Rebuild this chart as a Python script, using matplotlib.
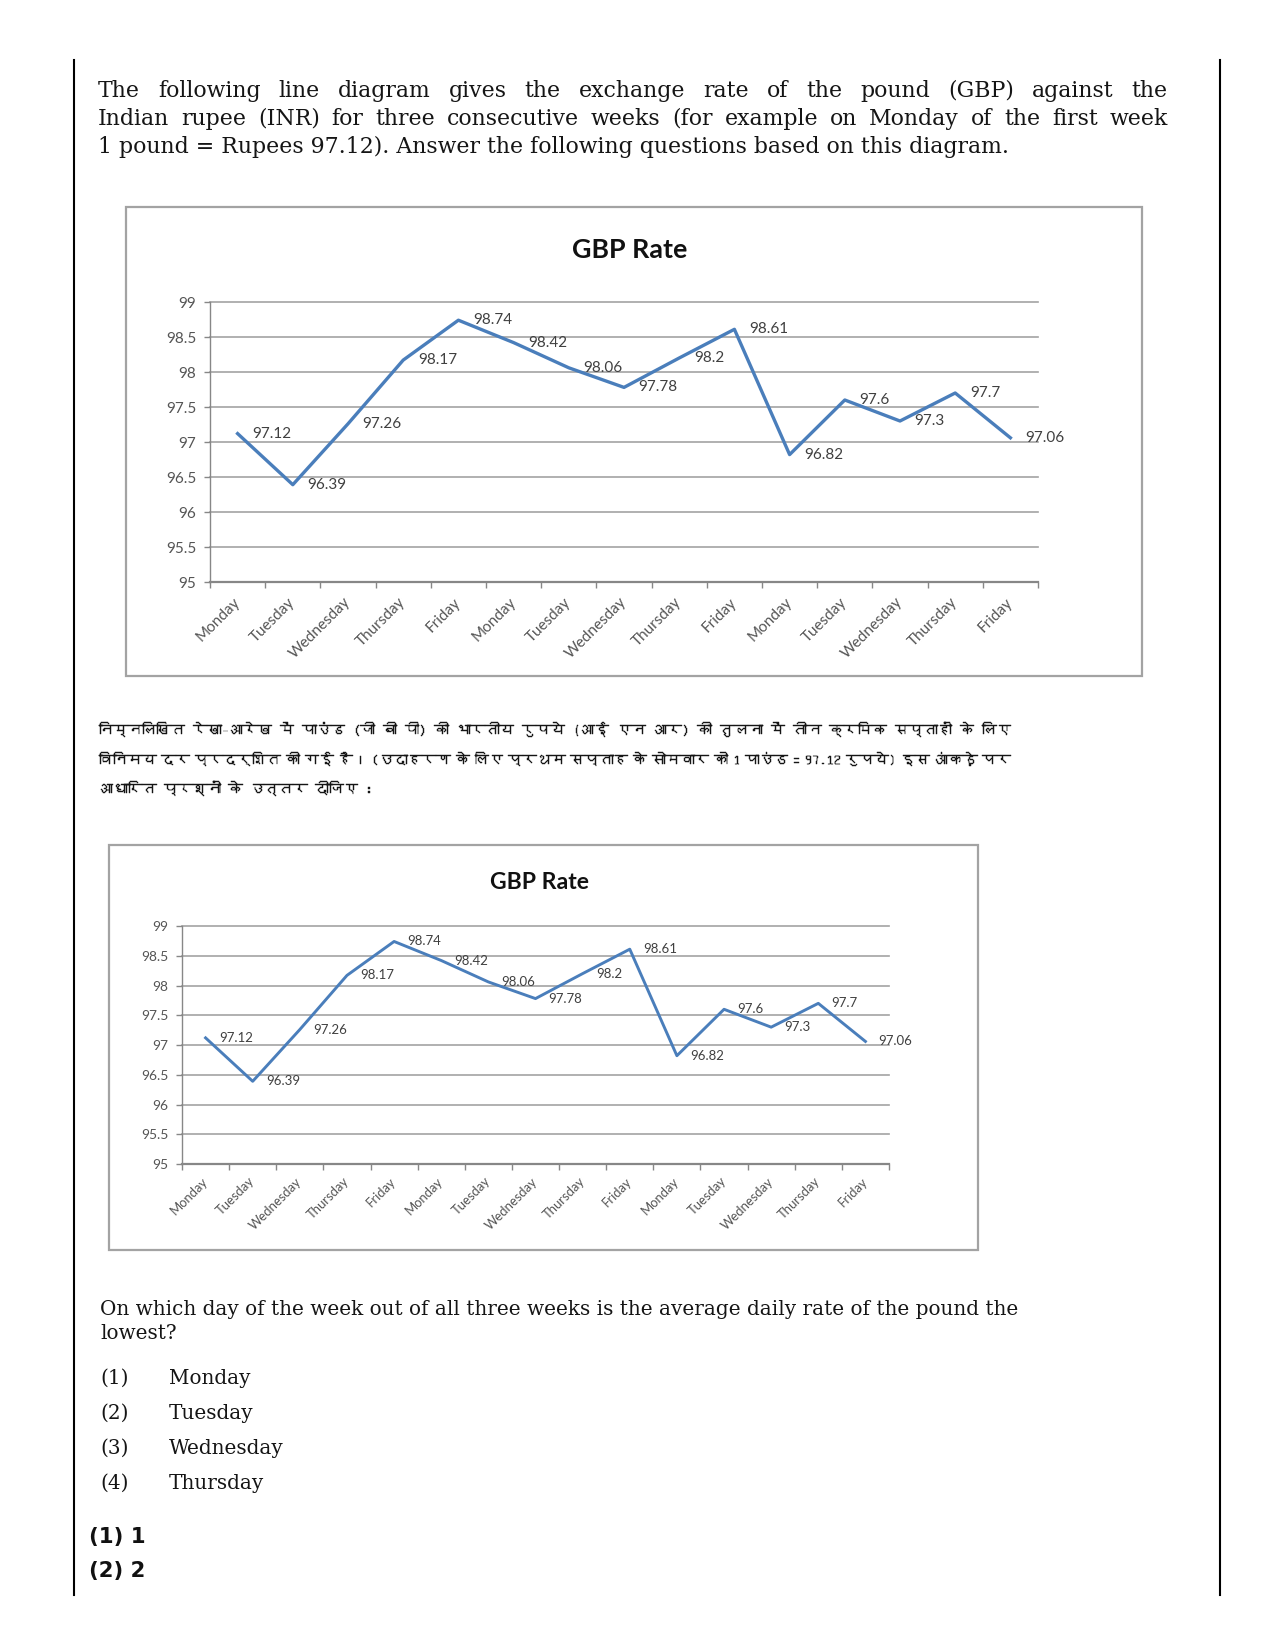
#!/usr/bin/env python
"""
GBP/INR 汇率题目页面复刻：英文/印地文题干 + 两张相同的折线图 + 选项。
"""

import matplotlib
matplotlib.use("Agg")
import matplotlib.pyplot as plt
import matplotlib.patheffects as pe
from matplotlib import font_manager
from matplotlib.ft2font import FT2Font
from matplotlib.patches import Rectangle
from matplotlib.lines import Line2D

W, H = 1275, 1651

# 图表数据（三周，每周周一到周五）
DAYS = ["Monday", "Tuesday", "Wednesday", "Thursday", "Friday"] * 3
RATES = [97.12, 96.39, 97.26, 98.17, 98.74,
         98.42, 98.06, 97.78, 98.2, 98.61,
         96.82, 97.6, 97.3, 97.7, 97.06]
Y_TICKS = [95, 95.5, 96, 96.5, 97, 97.5, 98, 98.5, 99]
CHART_TITLE = "GBP Rate"

INTRO_EN = [
    "The following line diagram gives the exchange rate of the pound (GBP) against the",
    "Indian rupee (INR) for three consecutive weeks (for example on Monday of the first week",
    "1 pound = Rupees 97.12). Answer the following questions based on this diagram.",
]
INTRO_HI = [
    "निम्नलिखित रेखा–आरेख में पाउंड (जी बी पी) की भारतीय रुपये (आई एन आर) की तुलना में तीन क्रमिक सप्ताहों के लिए",
    "विनिमय दर प्रदर्शित की गई है। (उदाहरण के लिए प्रथम सप्ताह के सोमवार को 1 पाउंड = 97.12 रुपये) इस आंकड़े पर",
    "आधारित प्रश्नों के उत्तर दीजिए :",
]
QUESTION = [
    "On which day of the week out of all three weeks is the average daily rate of the pound the",
    "lowest?",
]
OPTIONS = [("(1)", "Monday"), ("(2)", "Tuesday"), ("(3)", "Wednesday"), ("(4)", "Thursday")]
ANSWERS = ["(1) 1", "(2) 2"]

SERIF = ["DejaVu Serif"]
SANS = ["Lato", "DejaVu Sans"]
LINE_BLUE = "#4a7ebb"
GRID_GREY = "#a3a3a3"
AXIS_GREY = "#878787"
TEXT_GREY = "#555555"
INK = "#151515"


def find_family(code):
    """找一个包含指定字符的已安装字体。"""
    for f in font_manager.fontManager.ttflist:
        if f.weight not in (400, "normal", "regular") or f.style != "normal":
            continue
        try:
            if code in FT2Font(f.fname).get_charmap():
                return f.name
        except Exception:
            continue
    return None


fig = plt.figure(figsize=(W / 100, H / 100), dpi=100)
fig.patch.set_facecolor("white")
RENDERER = fig.canvas.get_renderer()


def fx(x):
    return x / W


def fy(y):
    return 1 - y / H


def text_width(s, size, **kw):
    t = fig.text(0, 0, s, fontsize=size, **kw)
    w = t.get_window_extent(renderer=RENDERER).width
    t.remove()
    return w


def fit_size(s, target_px, **kw):
    return 10 * target_px / text_width(s, 10, **kw)


def put_line(s, x0, y, size, x1=None, **kw):
    """在像素坐标 (x0, 基线 y) 写一行；给出 x1 时两端对齐。"""
    if x1 is None:
        fig.text(fx(x0), fy(y), s, fontsize=size, va="baseline", ha="left", **kw)
        return
    words = s.split(" ")
    widths = [text_width(w, size, **kw) for w in words]
    gap = (x1 - x0 - sum(widths)) / (len(words) - 1)
    x = x0
    for w, wd in zip(words, widths):
        fig.text(fx(x), fy(y), w, fontsize=size, va="baseline", ha="left", **kw)
        x += wd + gap


def draw_chart(box, plot, title_xy, title_w, label_w, ytick_w, xtick_w,
               lw, label_off, xpad):
    bx0, by0, bx1, by1 = box
    fig.add_artist(Rectangle((fx(bx0), fy(by1)), (bx1 - bx0) / W, (by1 - by0) / H,
                             transform=fig.transFigure, facecolor="white",
                             edgecolor="#a3a3a3", linewidth=1.6, zorder=0))

    tsize = fit_size(CHART_TITLE, title_w, family=SANS, fontweight="bold")
    fig.text(fx(title_xy[0]), fy(title_xy[1]), CHART_TITLE, fontsize=tsize,
             family=SANS, fontweight="bold", ha="center", va="center", color="#111111")

    px0, py0, px1, py1 = plot
    ax = fig.add_axes([fx(px0), fy(py1), (px1 - px0) / W, (py1 - py0) / H])
    ax.set_facecolor("none")

    x = list(range(len(RATES)))
    ax.plot(x, RATES, color=LINE_BLUE, lw=lw, zorder=3)

    lsize = fit_size("97.12", label_w, family=SANS)
    for xi, v in zip(x, RATES):
        ax.annotate(f"{v:g}", (xi, v), xytext=(label_off, 0), textcoords="offset points",
                    ha="left", va="center", fontsize=lsize, family=SANS,
                    color="#404040", zorder=4, annotation_clip=False)

    ax.set_ylim(Y_TICKS[0], Y_TICKS[-1])
    ax.set_yticks(Y_TICKS)
    ysize = fit_size("98.5", ytick_w, family=SANS)
    ax.set_yticklabels([f"{v:g}" for v in Y_TICKS], fontsize=ysize, family=SANS,
                       color=TEXT_GREY)
    ax.yaxis.grid(True, color=GRID_GREY, lw=1.2)
    for gl in ax.get_ygridlines():
        gl.set_clip_on(False)
    ax.set_axisbelow(True)
    ax.tick_params(axis="y", length=4, width=1, color=AXIS_GREY, pad=6)

    ax.set_xlim(-0.5, len(RATES) - 0.5)
    ax.set_xticks(x)
    xsize = fit_size("Wednesday", xtick_w, family=SANS)
    ax.set_xticklabels(DAYS, rotation=45, ha="right", va="center",
                       rotation_mode="anchor", fontsize=xsize, family=SANS,
                       color=TEXT_GREY)
    ax.tick_params(axis="x", which="major", length=0, pad=xpad)
    ax.set_xticks([i - 0.5 for i in range(len(RATES) + 1)], minor=True)
    ax.tick_params(axis="x", which="minor", length=4, width=1, color=AXIS_GREY)

    for side in ("top", "right"):
        ax.spines[side].set_visible(False)
    ax.spines["left"].set_color(AXIS_GREY)
    ax.spines["left"].set_linewidth(1.0)
    ax.spines["bottom"].set_color(AXIS_GREY)
    ax.spines["bottom"].set_linewidth(1.6)
    return ax


def main():
    # 页面左右竖线
    for xl in (74, 1220):
        fig.add_artist(Line2D([fx(xl), fx(xl)], [fy(60), fy(1595)],
                              transform=fig.transFigure, color="black", lw=1.5))

    # 英文题干
    en_size = fit_size(INTRO_EN[2], 914, family=SERIF)
    put_line(INTRO_EN[0], 98, 97, en_size, x1=1168, family=SERIF, color=INK)
    put_line(INTRO_EN[1], 98, 125, en_size, x1=1168, family=SERIF, color=INK)
    put_line(INTRO_EN[2], 98, 153, en_size, family=SERIF, color=INK)

    draw_chart(box=(126, 207, 1142, 676), plot=(210, 302, 1038, 582),
               title_xy=(630, 250), title_w=115, label_w=39, ytick_w=30,
               xtick_w=80, lw=2.4, label_off=10.5, xpad=13)

    # 印地文题干（轻微描边，接近原图的笔画粗细）
    hi_font = find_family(0x0928)
    hi_family = [hi_font, "DejaVu Sans"] if hi_font else ["DejaVu Sans"]
    hi_size = min(fit_size(INTRO_HI[0], 900, family=hi_family), 16)
    hi_fx = [pe.withStroke(linewidth=0.3, foreground=INK)]
    for i, line in enumerate(INTRO_HI):
        x1 = 1011 if i < 2 else None
        put_line(line, 99, 735 + i * 29.5, hi_size, x1=x1, family=hi_family,
                 color=INK, path_effects=hi_fx)

    draw_chart(box=(109, 845, 978, 1250), plot=(182, 926, 889, 1164),
               title_xy=(540, 882), title_w=99, label_w=34, ytick_w=27,
               xtick_w=68, lw=2.1, label_off=9.5, xpad=11)

    # 问题和选项
    q_size = fit_size(QUESTION[0], 916, family=SERIF)
    put_line(QUESTION[0], 100, 1315, q_size, family=SERIF, color=INK)
    put_line(QUESTION[1], 100, 1339, q_size, family=SERIF, color=INK)
    for i, (num, day) in enumerate(OPTIONS):
        y = 1384 + i * 35
        put_line(num, 100, y, q_size, family=SERIF, color=INK)
        put_line(day, 169, y, q_size, family=SERIF, color=INK)

    a_size = fit_size(ANSWERS[0], 57, family=["DejaVu Sans"], fontweight="bold")
    for i, ans in enumerate(ANSWERS):
        put_line(ans, 89, 1543 + i * 34, a_size, family=["DejaVu Sans"],
                 fontweight="bold", color="#111111")

    fig.savefig("out.png", dpi=100)


if __name__ == "__main__":
    main()
